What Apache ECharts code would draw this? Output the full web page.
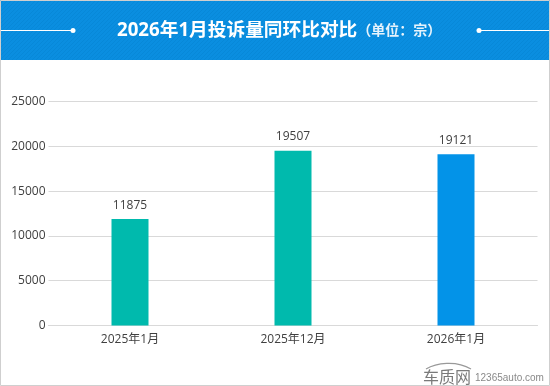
<!DOCTYPE html>
<html>
<head>
<meta charset="utf-8">
<script src="https://cdn.jsdelivr.net/npm/echarts@6/dist/echarts.min.js"></script>
<style>
  html, body { margin: 0; padding: 0; background: #fff; }
  #mychart { width: 550px; height: 386px; }
</style>
</head>
<body>
<div id="mychart"></div>
<script>
const categories = ['2025年1月', '2025年12月', '2026年1月'];
const values = [11875, 19507, 19121];
const barColors = ['#00baad', '#00baad', '#0393e8'];
const yTicks = [0, 5000, 10000, 15000, 20000, 25000];

const fontFamily = '"Open Sans","Noto Sans CJK SC",sans-serif';

// 标题栏的细斜纹
const stripe = document.createElement('canvas');
stripe.width = 4;
stripe.height = 4;
const ctx = stripe.getContext('2d');
ctx.fillStyle = '#0a8ee0';
ctx.fillRect(0, 0, 4, 4);
ctx.strokeStyle = '#0788d8';
ctx.lineWidth = 1;
ctx.beginPath();
ctx.moveTo(0, 4);
ctx.lineTo(4, 0);
ctx.stroke();

const option = {
  animation: false,
  title: {
    text: '{main|2026年1月投诉量同环比对比}{unit|（单位：宗）}',
    left: 117,
    top: 16,
    padding: 0,
    textStyle: {
      rich: {
        main: { fontFamily, fontSize: 18.7, fontWeight: 'bold', color: '#fff', lineHeight: 30 },
        unit: { fontFamily, fontSize: 14, color: '#e6f3fc', lineHeight: 30 }
      }
    }
  },
  grid: { left: 48.5, right: 12.5, top: 101.5, bottom: 60.5 },
  xAxis: {
    type: 'category',
    data: categories,
    axisTick: { show: false },
    axisLine: { lineStyle: { color: '#d9d9d9' } },
    axisLabel: { color: '#404040', fontSize: 12, fontFamily, margin: 8 }
  },
  yAxis: {
    type: 'value',
    min: yTicks[0],
    max: yTicks[yTicks.length - 1],
    interval: yTicks[1] - yTicks[0],
    axisLine: { show: false },
    axisTick: { show: false },
    axisLabel: { color: '#404040', fontSize: 12, fontFamily, margin: 3, formatter: v => String(v) },
    splitLine: { lineStyle: { color: '#d9d9d9' } }
  },
  series: [{
    type: 'bar',
    barWidth: 37,
    data: values.map((v, i) => ({ value: v, itemStyle: { color: barColors[i] } })),
    label: {
      show: true,
      position: 'top',
      distance: 8,
      color: '#404040',
      fontSize: 12,
      fontFamily
    }
  }],
  graphic: [
    // 标题栏
    { type: 'rect', z: -1, shape: { x: 0, y: 0, width: 550, height: 60 }, style: { fill: { image: stripe, repeat: 'repeat' } } },
    // 外框
    { type: 'rect', z: 10, shape: { x: 0.5, y: 0.5, width: 549, height: 385 }, style: { fill: 'none', stroke: '#cfcfcf', lineWidth: 1 } },
    { type: 'line', z: 5, shape: { x1: 1, y1: 30.5, x2: 73, y2: 30.5 }, style: { stroke: '#fff', lineWidth: 1 } },
    { type: 'circle', z: 5, shape: { cx: 73, cy: 30.5, r: 2.5 }, style: { fill: '#fff' } },
    { type: 'line', z: 5, shape: { x1: 479, y1: 30.5, x2: 549, y2: 30.5 }, style: { stroke: '#fff', lineWidth: 1 } },
    { type: 'circle', z: 5, shape: { cx: 479, cy: 30.5, r: 2.5 }, style: { fill: '#fff' } },
    // 水印
    { type: 'text', z: 5, style: { x: 423, y: 369, text: '车质网', fill: '#7a7a7a', fontSize: 16, fontFamily: '"Noto Sans CJK SC",sans-serif' } },
    { type: 'text', z: 5, style: { x: 475, y: 373, text: '12365auto.com', fill: '#8a8a8a', fontSize: 10, fontFamily: 'Arial,"Liberation Sans",sans-serif' } },
    { type: 'bezierCurve', z: 5, style: { stroke: '#999', fill: 'none', lineWidth: 1.2 },
      shape: { x1: 426, y1: 369, cpx1: 436, cpy1: 363, cpx2: 456, cpy2: 360, x2: 471, y2: 369 } }
  ]
};

const myChart = echarts.init(document.getElementById('mychart'));
myChart.setOption(option);
</script>
</body>
</html>
